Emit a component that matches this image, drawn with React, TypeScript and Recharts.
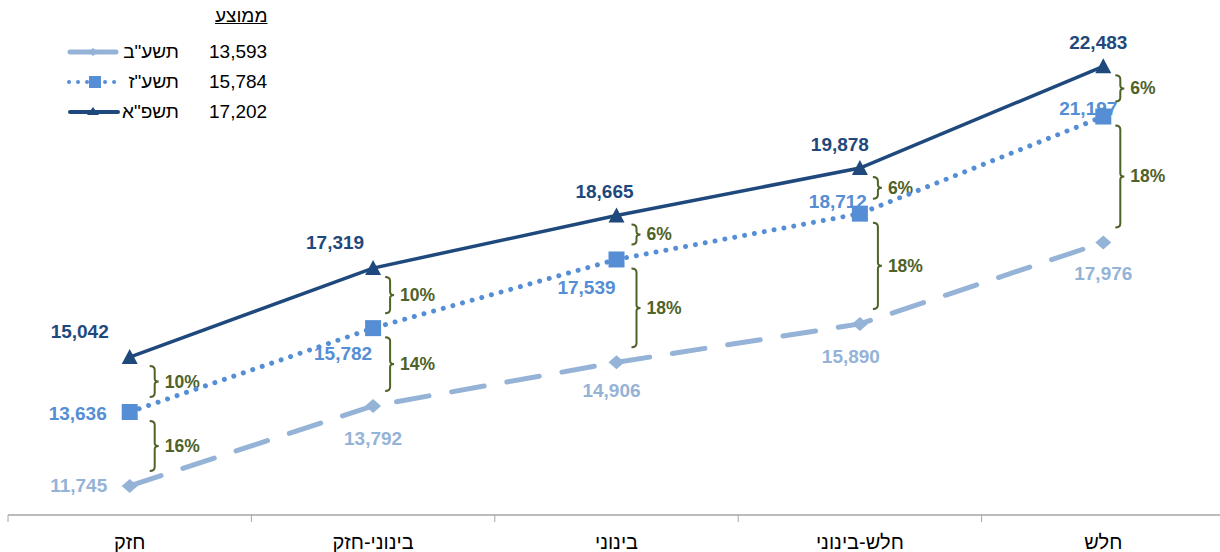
import React from 'react';
import { LineChart, Line, XAxis, YAxis, ReferenceLine } from 'recharts';

const categories = ['חזק', 'בינוני-חזק', 'בינוני', 'חלש-בינוני', 'חלש'];
const tashab = [11745, 13792, 14906, 15890, 17976];
const tashaz = [13636, 15782, 17539, 18712, 21197];
const tashpa = [15042, 17319, 18665, 19878, 22483];
const gapUpper = ['10%', '10%', '6%', '6%', '6%'];
const gapLower = ['16%', '14%', '18%', '18%', '18%'];
const seriesNames = ['תשע"ב', 'תשע"ז', 'תשפ"א'];
const seriesAverages = ['13,593', '15,784', '17,202'];

const LIGHT = '#95B3D7';
const MID = '#558ED5';
const DARK = '#1F497D';
const GREEN = '#4F6228';
const FONT = '"Liberation Sans", Arial, sans-serif';

const data = categories.map((cat, i) => ({
    cat,
    tashab: tashab[i],
    tashaz: tashaz[i],
    tashpa: tashpa[i],
}));

// label nudges (px) per point, like the hand-placed excel labels
const darkLabelPos = [[-50, -26], [-38, -26], [-12, -24], [-20, -24], [-5, -24]];
const midLabelPos = [[-52, 2], [-30, 25], [-30, 28], [-22, -12], [-15, -8]];
const lightLabelPos = [[-51, 0], [0, 33], [-5, 28], [-9, 33], [0, 31]];
const bracketDx = [25, 17, 20, 18, 17];

const BAND = 1217 / 5;

function makeLabel(color: string, pos: number[][]) {
    return (props: any) => {
        const { x, y, index, value } = props;
        const [dx, dy] = pos[index] || [0, 0];
        return (
            <text x={x + dx} y={y + dy} textAnchor="middle" dominantBaseline="central"
                fill={color} fontWeight="bold" fontSize={19} fontFamily={FONT}>
                {Number(value).toLocaleString('en-US')}
            </text>
        );
    };
}

const Diamond = (props: any) => {
    const { cx, cy } = props;
    if (cx == null || cy == null) return null;
    return <polygon points={`${cx - 8},${cy} ${cx},${cy - 7} ${cx + 8},${cy} ${cx},${cy + 7}`} fill={LIGHT} />;
};

const Square = (props: any) => {
    const { cx, cy } = props;
    if (cx == null || cy == null) return null;
    return <rect x={cx - 8} y={cy - 8} width={16} height={16} fill={MID} />;
};

const Triangle = (props: any) => {
    const { cx, cy } = props;
    if (cx == null || cy == null) return null;
    return <polygon points={`${cx - 8},${cy + 7} ${cx},${cy - 8} ${cx + 8},${cy + 7}`} fill={DARK} />;
};

function bracketShape(text: string, dx: number) {
    return (props: any) => {
        const { x1, y1, y2 } = props;
        if (x1 == null) return null;
        const bx = x1 + dx;
        const top = Math.min(y1, y2) + 9;
        const bot = Math.max(y1, y2) - 15;
        const mid = (top + bot) / 2;
        return (
            <g>
                <path d={`M${bx - 5},${top} Q${bx},${top} ${bx},${top + 4} L${bx},${mid - 3} Q${bx},${mid} ${bx + 4},${mid} Q${bx},${mid} ${bx},${mid + 3} L${bx},${bot - 4} Q${bx},${bot} ${bx - 5},${bot}`}
                    fill="none" stroke={GREEN} strokeWidth={2} />
                <text x={bx + 10} y={mid} dominantBaseline="central" fill={GREEN}
                    fontWeight="bold" fontSize={17.5} fontFamily={FONT}>{text}</text>
            </g>
        );
    };
}

const CatTick = (props: any) => {
    const { x, payload } = props;
    return (
        <g>
            <line x1={x - BAND / 2} y1={515} x2={x - BAND / 2} y2={522} stroke="#A6A6A6" strokeWidth={1} />
            <text x={x} y={542} textAnchor="middle" dominantBaseline="central" fill="#000"
                fontSize={20} fontFamily={FONT}>{payload.value}</text>
        </g>
    );
};

function Legend() {
    const rows = [0, 1, 2];
    return (
        <div style={{ position: 'absolute', left: 0, top: 0, width: 300, height: 130, fontFamily: FONT, fontSize: 19, color: '#000' }}>
            <div style={{ position: 'absolute', left: 215, top: 5, textDecoration: 'underline', direction: 'rtl' }}>ממוצע</div>
            {rows.map((r) => (
                <div key={r} style={{ position: 'absolute', left: 0, top: 41 + r * 30, width: 300, height: 22 }}>
                    <svg width={120} height={22} style={{ position: 'absolute', left: 0, top: 0 }}>
                        {r === 0 && (
                            <g>
                                <line x1={70} y1={11} x2={116} y2={11} stroke={LIGHT} strokeWidth={5} strokeLinecap="round" />
                                <polygon points="88,11 93,7 98,11 93,15" fill={LIGHT} />
                            </g>
                        )}
                        {r === 1 && (
                            <g>
                                <line x1={69} y1={11} x2={117} y2={11} stroke={MID} strokeWidth={4} strokeLinecap="round" strokeDasharray="0.01 9" />
                                <rect x={89} y={5} width={12} height={12} fill={MID} />
                            </g>
                        )}
                        {r === 2 && (
                            <g>
                                <line x1={70} y1={11} x2={118} y2={11} stroke={DARK} strokeWidth={4} strokeLinecap="round" />
                                <polygon points="87,14 93,6 99,14" fill={DARK} />
                            </g>
                        )}
                    </svg>
                    <div style={{ position: 'absolute', right: 300 - 179, top: 0, direction: 'rtl' }}>{seriesNames[r]}</div>
                    <div style={{ position: 'absolute', left: 209, top: 0 }}>{seriesAverages[r]}</div>
                </div>
            ))}
        </div>
    );
}

export default function App() {
    return (
        <div style={{ position: 'absolute', left: 0, top: 0, width: 1220, height: 552, overflow: 'hidden', background: '#fff' }}>
            <LineChart width={1225} height={552} data={data} margin={{ top: 7, right: 0, bottom: 0, left: 8 }}>
                <XAxis dataKey="cat" scale="band" height={37} axisLine={{ stroke: '#A6A6A6', strokeWidth: 1.5 }} tickLine={false} tick={<CatTick />} interval={0} />
                <YAxis hide width={0} domain={[11000, 24000]} />
                {categories.map((cat, i) => (
                    <ReferenceLine key={`u${i}`} ifOverflow="visible"
                        segment={[{ x: cat, y: tashpa[i] }, { x: cat, y: tashaz[i] }]}
                        shape={bracketShape(gapUpper[i], bracketDx[i])} />
                ))}
                {categories.map((cat, i) => (
                    <ReferenceLine key={`l${i}`} ifOverflow="visible"
                        segment={[{ x: cat, y: tashaz[i] }, { x: cat, y: tashab[i] }]}
                        shape={bracketShape(gapLower[i], bracketDx[i])} />
                ))}
                <Line dataKey="tashab" stroke={LIGHT} strokeWidth={5} strokeDasharray="33 23" strokeLinecap="round"
                    dot={<Diamond />} activeDot={false} isAnimationActive={false}
                    label={makeLabel(LIGHT, lightLabelPos)} />
                <Line dataKey="tashaz" stroke={MID} strokeWidth={5} strokeDasharray="0.01 10" strokeLinecap="round"
                    dot={<Square />} activeDot={false} isAnimationActive={false}
                    label={makeLabel(MID, midLabelPos)} />
                <Line dataKey="tashpa" stroke={DARK} strokeWidth={3.5}
                    dot={<Triangle />} activeDot={false} isAnimationActive={false}
                    label={makeLabel(DARK, darkLabelPos)} />
            </LineChart>
            <Legend />
        </div>
    );
}
